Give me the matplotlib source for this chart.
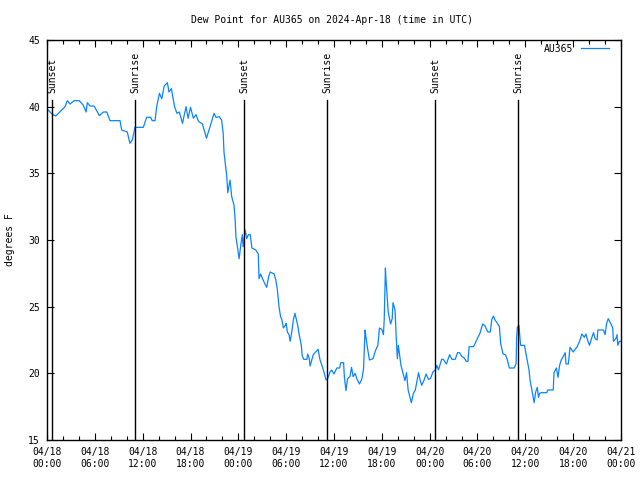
import matplotlib
matplotlib.use("Agg")
import matplotlib.pyplot as plt
import numpy as np

plt.rcParams['font.family'] = ['DejaVu Sans Mono', 'DejaVu Sans']
plt.rcParams['font.size'] = 7

# hours since 2024-04-18 00:00 UTC
hours = [
    0.0, 0.67, 1.1, 1.6, 2.26, 2.55, 2.9, 3.4, 4.06, 4.56, 4.9, 5.06, 5.4, 5.9,
    6.57, 7.07, 7.5, 7.9, 9.16, 9.37, 10.07, 10.4, 10.7, 11.04, 12.08, 12.5, 13.0,
    13.2, 13.55, 13.76, 14.1, 14.4, 14.7, 15.1, 15.3, 15.6, 16.0, 16.3, 16.6, 17.0,
    17.44, 17.7, 18.0, 18.36, 18.7, 19.0, 19.5, 20.0, 20.45, 20.95, 21.2, 21.6,
    21.9, 22.1, 22.2, 22.55, 22.67, 22.96, 23.17, 23.46, 23.6, 23.7, 24.0, 24.1,
    24.3, 24.5, 24.6, 24.85, 25.05, 25.26, 25.5, 25.7, 26.2, 26.5, 26.6, 26.8,
    27.1, 27.56, 27.8, 28.0, 28.5, 28.7, 28.9, 29.1, 29.3, 29.45, 29.65, 29.9,
    30.0, 30.15, 30.36, 30.5, 30.7, 30.9, 31.1, 31.3, 31.45, 31.6, 31.9, 32.0,
    32.2, 32.6, 32.7, 32.9, 33.0, 33.4, 34.0, 34.25, 34.65, 35.0, 35.2, 35.5,
    35.7, 36.0, 36.35, 36.7, 36.85, 37.2, 37.3, 37.5, 37.7, 38.0, 38.2, 38.4,
    38.65, 38.86, 39.2, 39.5, 39.7, 39.9, 40.0, 40.2, 40.45, 40.9, 41.2, 41.5,
    41.7, 42.0, 42.2, 42.3, 42.45, 42.5, 42.7, 42.8, 43.1, 43.3, 43.4, 43.66,
    43.8, 43.95, 44.07, 44.2, 44.4, 44.7, 44.9, 45.1, 45.3, 45.7, 45.96, 46.2,
    46.5, 46.6, 46.8, 47.0, 47.3, 47.55, 47.85, 48.1, 48.4, 48.7, 48.9, 49.1,
    49.5, 49.7, 50.1, 50.5, 50.8, 51.2, 51.5, 51.75, 52.05, 52.25, 52.6, 52.8,
    52.95, 53.5, 53.9, 54.3, 54.65, 54.9, 55.3, 55.6, 55.8, 56.0, 56.2, 56.5,
    56.75, 56.9, 57.2, 57.5, 57.7, 58.0, 58.6, 58.85, 58.9, 59.0, 59.2, 59.4,
    59.9, 60.1, 60.45, 60.6, 60.9, 61.1, 61.3, 61.5, 61.65, 61.8, 62.0, 62.7,
    62.8, 63.5, 63.6, 63.9, 64.1, 64.3, 64.5, 64.7, 65.0, 65.1, 65.4, 65.6,
    66.0, 66.5, 66.8, 67.1, 67.4, 67.6, 67.8, 68.05, 68.35, 68.55, 68.75, 69.0,
    69.1, 69.8, 70.0, 70.2, 70.4, 70.7, 70.96, 71.05, 71.35, 71.5, 71.6, 71.8,
    71.95,
]
dew_point = [
    39.83, 39.43, 39.3, 39.6, 40.0, 40.45, 40.2, 40.45, 40.45, 40.1, 39.6, 40.3,
    40.05, 40.05, 39.33, 39.6, 39.6, 38.95, 38.95, 38.25, 38.1, 37.25, 37.5,
    38.45, 38.45, 39.2, 39.2, 38.95, 38.95, 40.0, 41.0, 40.6, 41.55, 41.8, 41.1,
    41.35, 40.0, 39.5, 39.6, 38.75, 40.0, 39.13, 39.95, 39.13, 39.4, 38.9, 38.7,
    37.63, 38.5, 39.5, 39.2, 39.25, 39.0, 38.0, 36.6, 34.75, 33.55, 34.5, 33.25,
    32.6, 31.5, 30.25, 29.0, 28.6, 29.6, 30.4, 29.5, 30.75, 30.1, 30.4, 30.4,
    29.4, 29.25, 28.95, 27.1, 27.45, 27.0, 26.45, 27.25, 27.6, 27.45, 27.0,
    26.25, 25.0, 24.25, 24.05, 23.4, 23.6, 23.75, 23.1, 22.9, 22.4, 23.1, 24.0,
    24.5, 24.0, 23.6, 23.0, 22.1, 21.35, 21.05, 21.05, 21.45, 21.1, 20.55, 21.4,
    21.8, 21.0, 20.3, 19.5, 19.6, 20.1, 20.25, 19.95, 20.4, 20.4, 20.8, 20.8,
    19.75, 18.7, 19.6, 19.75, 20.45, 19.75, 20.0, 19.6, 19.2, 19.6, 20.3, 23.25,
    22.75, 21.9, 21.0, 21.1, 21.7, 22.1, 23.4, 23.3, 22.9, 24.05, 27.9, 27.25,
    25.4, 24.6, 23.7, 24.1, 25.3, 24.75, 22.75, 21.1, 22.1, 21.5, 20.6, 19.9,
    19.45, 20.05, 18.75, 17.8, 18.5, 18.75, 19.75, 20.05, 19.5, 19.1, 19.5,
    19.95, 19.55, 19.6, 20.1, 20.25, 20.6, 20.25, 21.05, 21.05, 20.7, 21.4,
    21.05, 21.05, 21.55, 21.55, 21.25, 21.2, 20.9, 20.9, 22.0, 22.0, 22.5, 23.0,
    23.7, 23.6, 23.1, 23.1, 24.05, 24.3, 24.0, 23.75, 23.5, 22.25, 21.45, 21.4,
    21.1, 20.4, 20.4, 20.75, 22.6, 23.45, 23.6, 22.1, 22.1, 21.4, 20.3, 19.45,
    18.5, 17.8, 18.6, 18.95, 18.2, 18.5, 18.55, 18.55, 18.75, 18.75, 20.05, 20.4,
    19.7, 20.6, 21.0, 21.2, 21.55, 20.7, 20.7, 21.95, 21.6, 22.0, 22.4, 22.95,
    22.7, 22.95, 22.5, 22.1, 22.7, 23.05, 22.6, 22.5, 23.25, 23.25, 22.9, 23.75,
    24.1, 23.75, 23.4, 22.4, 22.6, 22.9, 22.1, 22.4, 22.4,
]

sun_hours = [0.63, 11.08, 24.76, 35.17, 48.73, 59.14]
sun_labels = ['Sunset', 'Sunrise', 'Sunset', 'Sunrise', 'Sunset', 'Sunrise']

tick_labels = ['04/18\n00:00', '04/18\n06:00', '04/18\n12:00', '04/18\n18:00',
               '04/19\n00:00', '04/19\n06:00', '04/19\n12:00', '04/19\n18:00',
               '04/20\n00:00', '04/20\n06:00', '04/20\n12:00', '04/20\n18:00',
               '04/21\n00:00']

fig = plt.figure(figsize=(6.4, 4.8), dpi=100)
ax = fig.add_axes([47 / 640, 40 / 480, 574 / 640, 400 / 480])

line, = ax.plot(hours, dew_point, color='#0a84ff', lw=0.9, label='AU365')

# sunrise / sunset markers
for h, lab in zip(sun_hours, sun_labels):
    ax.plot([h, h], [15, 40.5], color='black', lw=1.0)
    ax.text(h, 41.0, lab, rotation=90, ha='center', va='bottom', fontsize=7)

ax.set_xlim(0, 72)
ax.set_ylim(15, 45)
ax.set_xticks(np.arange(0, 73, 6))
ax.set_xticklabels(tick_labels)
ax.set_xticks(np.arange(0, 73, 2), minor=True)
ax.set_yticks(np.arange(15, 46, 5))

ax.tick_params(which='both', direction='in', top=True, right=True,
               color='black', labelsize=7)
ax.tick_params(which='major', length=5, width=0.8)
ax.tick_params(which='minor', length=3, width=0.8)
ax.tick_params(axis='x', pad=5)
ax.tick_params(axis='y', pad=5)
for s in ax.spines.values():
    s.set_linewidth(1.0)

fig.text(10 / 640, 1 - 240 / 480, 'degrees F', rotation=90,
         ha='center', va='center', fontsize=7)
fig.text(332 / 640, 1 - 20 / 480,
         'Dew Point for AU365 on 2024-Apr-18 (time in UTC)',
         ha='center', va='center', fontsize=7)

ax.legend(handles=[line], loc='upper right', bbox_to_anchor=(1 - 8 / 574, 1.0),
          frameon=False, markerfirst=False, handlelength=2.9, fontsize=7,
          borderaxespad=0, handletextpad=0.8)

fig.savefig('out.png', dpi=100)
